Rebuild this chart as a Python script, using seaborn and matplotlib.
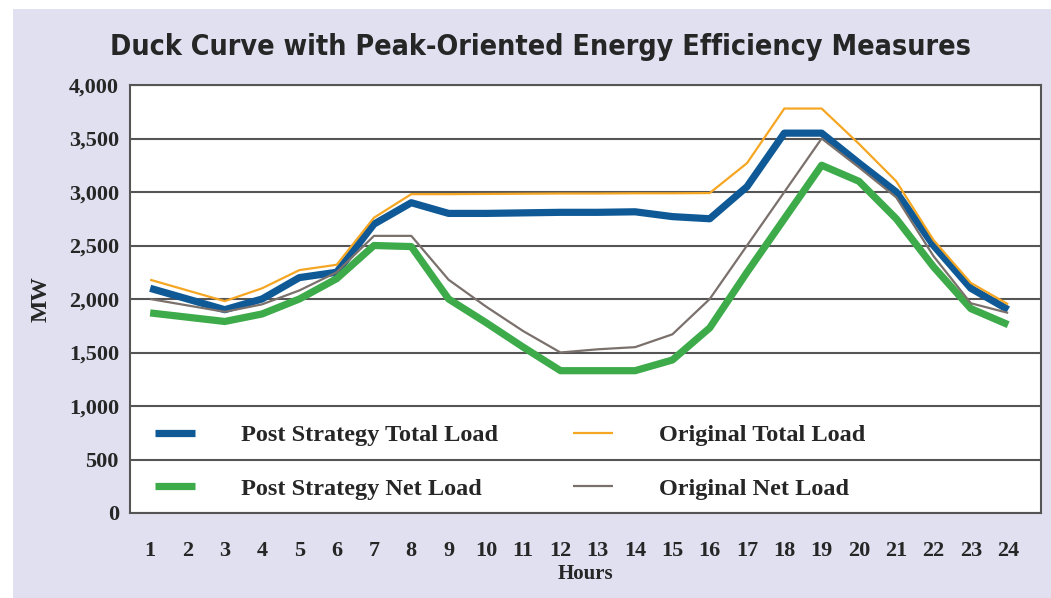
import matplotlib
matplotlib.use("Agg")
import matplotlib.pyplot as plt
import seaborn as sns
from matplotlib.patches import Rectangle

# Data
hours = list(range(1, 25))
post_total = [2100, 2000, 1900, 2000, 2200, 2250, 2700, 2900, 2800, 2800, 2805, 2810,
              2810, 2815, 2770, 2750, 3050, 3550, 3550, 3270, 3000, 2500, 2100, 1900]
orig_total = [2180, 2080, 1980, 2100, 2270, 2320, 2760, 2980, 2980, 2982, 2984, 2986,
              2986, 2988, 2988, 2990, 3270, 3780, 3780, 3450, 3100, 2550, 2150, 1950]
post_net = [1870, 1830, 1790, 1860, 2000, 2190, 2500, 2490, 2000, 1780, 1550, 1330,
            1330, 1330, 1430, 1730, 2250, 2750, 3250, 3100, 2750, 2300, 1910, 1760]
orig_net = [2000, 1940, 1880, 1950, 2080, 2250, 2590, 2590, 2180, 1930, 1700, 1500,
            1530, 1550, 1670, 2000, 2500, 3000, 3500, 3230, 2950, 2400, 1960, 1870]

labels = ["Post Strategy Total Load", "Post Strategy Net Load",
          "Original Total Load", "Original Net Load"]
yticks = list(range(0, 4001, 500))

BG = "#e1e0f0"
GRID = "#555555"

sns.set_style("white")
plt.rcParams['font.family'] = ['Liberation Serif', 'DejaVu Serif']

fig = plt.figure(figsize=(10.51, 5.98), dpi=100)
fig.patch.set_facecolor("white")
# lavender panel behind the chart
fig.patches.append(Rectangle((13 / 1051, 0), 1, 1 - 9 / 598, transform=fig.transFigure,
                             facecolor=BG, edgecolor="none", zorder=-10))

ax = fig.add_axes([130 / 1051, 1 - 513 / 598, 911 / 1051, 428 / 598])
ax.set_facecolor("white")

sns.lineplot(x=hours, y=post_total, ax=ax, color="#0f5a96", linewidth=5.2, zorder=3)
sns.lineplot(x=hours, y=post_net, ax=ax, color="#3dab4a", linewidth=5.2, zorder=3)
sns.lineplot(x=hours, y=orig_total, ax=ax, color="#f5a623", linewidth=1.6, zorder=4)
sns.lineplot(x=hours, y=orig_net, ax=ax, color="#7a706c", linewidth=1.6, zorder=4)
for ln in ax.get_lines():
    ln.set_solid_capstyle("butt")

ax.set_xlim(0.46, 24.88)
ax.set_ylim(0, 4000)
ax.set_yticks(yticks)
ax.set_yticklabels([f"{v:,}" for v in yticks])
ax.set_xticks(hours)
ax.tick_params(axis="both", length=0, labelsize=16)
ax.tick_params(axis="y", pad=8)
ax.tick_params(axis="x", pad=20)
for lab in ax.get_xticklabels() + ax.get_yticklabels():
    lab.set_fontweight("bold")

ax.grid(axis="y", color=GRID, linewidth=1.5, zorder=1)
ax.grid(axis="x", visible=False)
for sp in ax.spines.values():
    sp.set_color(GRID)
    sp.set_linewidth(1.5)
    sp.set_visible(True)

ax.set_ylabel("MW", fontsize=17, fontweight="bold", labelpad=12)
ax.set_xlabel("Hours", fontsize=15, fontweight="bold", labelpad=2)

fig.text(541 / 1051, 1 - 47 / 598, "Duck Curve with Peak-Oriented Energy Efficiency Measures",
         ha="center", va="center", fontsize=20.5, fontweight="heavy", fontstretch="condensed",
         family=["DejaVu Sans"])

lines = ax.get_lines()
leg_kw = dict(frameon=False, prop={"weight": "bold", "size": 17.5},
              handlelength=1.65, handletextpad=1.9, labelspacing=1.29, borderpad=0,
              loc="upper left")
leg1 = ax.legend([lines[0], lines[1]], labels[:2], bbox_to_anchor=(0.014, 0.236), **leg_kw)
ax.add_artist(leg1)
leg2 = ax.legend([lines[2], lines[3]], labels[2:], bbox_to_anchor=(0.473, 0.236), **leg_kw)
for lg in (leg1, leg2):
    for h in lg.legend_handles:
        h.set_solid_capstyle("butt")

fig.savefig("out.png", dpi=100)
